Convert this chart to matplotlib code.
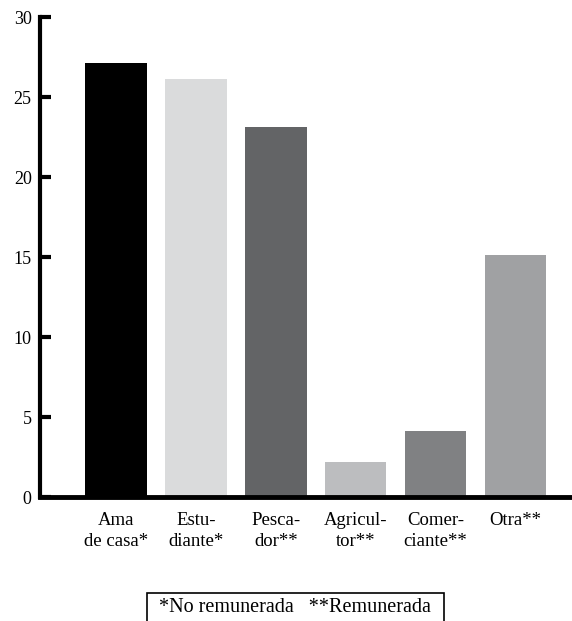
import matplotlib
matplotlib.use("Agg")
import matplotlib.pyplot as plt
from matplotlib.patches import Rectangle

categories = ["Ama\nde casa*", "Estu-\ndiante*", "Pesca-\ndor**", "Agricul-\ntor**", "Comer-\nciante**", "Otra**"]
values = [27.1, 26.1, 23.1, 2.2, 4.1, 15.1]
colors = ["#000000", "#dadbdc", "#636466", "#bcbdbf", "#808183", "#a0a1a3"]
yticks = [0, 5, 10, 15, 20, 25, 30]
legend_text = "*No remunerada   **Remunerada"

plt.rcParams["font.family"] = ["Liberation Serif", "DejaVu Serif"]

fig = plt.figure(figsize=(5.72, 6.21), dpi=100)
ax = fig.add_axes([40/572, 124/621, 533/572, 480/621])

x = list(range(len(categories)))
ax.bar(x, values, width=0.77, color=colors)
ax.set_xlim(-0.95, 5.72)
ax.set_ylim(0, 30)
ax.set_yticks(yticks)
ax.set_yticklabels([str(t) for t in yticks], fontsize=13)
ax.set_xticks(x)
ax.set_xticklabels(categories, fontsize=13.5, linespacing=1.25)

for s in ["top", "right"]:
    ax.spines[s].set_visible(False)
ax.spines["left"].set_linewidth(3.0)
ax.spines["bottom"].set_linewidth(3.5)
ax.tick_params(axis="y", direction="in", length=8, width=3.0, pad=6)
ax.tick_params(axis="x", length=0, pad=11)

fig.patches.append(Rectangle((147/572, -0.05), 297/572, 0.05 + 28/621,
                             transform=fig.transFigure, fill=False,
                             edgecolor="black", linewidth=1.2, clip_on=False))
fig.text(295/572, 14/621, legend_text, ha="center", va="center", fontsize=14.5)

fig.savefig("out.png", dpi=100)
